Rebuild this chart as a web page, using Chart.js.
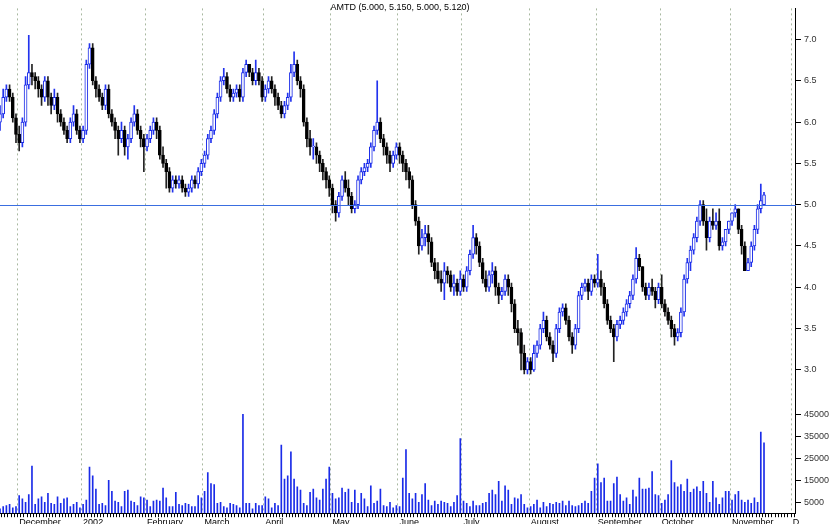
<!DOCTYPE html>
<html><head><meta charset="utf-8">
<script src="https://cdn.jsdelivr.net/npm/chart.js@4/dist/chart.umd.min.js"></script>
<style>html,body{margin:0;padding:0;background:#fff}#w{width:832px;height:524px}</style>
</head><body><div id="w"><canvas id="c"></canvas></div>
<script>
const chartTitle = "AMTD (5.000, 5.150, 5.000, 5.120)";
const refLevel = 5.0;
const monthMarks = {6:"December",26:"2002",46:"February",64:"March",83:"April",104:"May",125:"June",145:"July",166:"August",187:"September",207:"October",229:"November",248:"D"};
const priceTicks = [3.0,3.5,4.0,4.5,5.0,5.5,6.0,6.5,7.0];
const volTicks = [5000,10000,15000,20000,25000,30000,35000,40000,45000];
const opens = [
6.00,6.10,6.30,6.40,6.30,6.05,5.85,
5.75,6.00,6.45,6.60,6.55,
6.50,6.40,6.30,6.50,6.30,6.20,6.30,
6.10,6.00,5.90,5.80,6.00,6.10,5.90,5.80,
5.90,6.70,6.90,6.50,
6.40,6.30,6.20,6.40,6.10,6.00,5.90,5.80,5.90,5.70,5.80,6.00,
6.10,5.90,5.80,5.70,5.80,5.90,6.00,
5.90,5.60,5.50,5.40,5.20,5.30,5.25,5.30,5.20,5.15,5.20,5.30,5.25,5.40,5.50,5.60,
5.80,5.90,6.10,6.30,6.50,6.55,6.40,6.30,6.35,6.40,6.30,6.60,6.70,6.60,
6.50,6.60,6.50,6.30,6.40,6.50,6.40,6.30,6.20,6.10,6.20,6.30,6.60,6.70,6.50,
6.40,6.00,5.80,5.70,5.70,5.60,5.50,5.40,5.30,5.20,5.00,4.90,5.10,
5.30,5.20,5.10,4.95,5.00,5.30,5.40,5.45,
5.50,5.70,5.90,6.00,5.80,5.70,5.60,5.50,5.60,5.70,5.60,5.50,5.40,5.30,
5.00,4.80,4.50,4.60,4.65,4.55,4.30,
4.20,4.10,4.05,4.20,4.15,4.00,4.05,3.95,4.10,4.00,4.20,4.40,4.60,4.50,
4.30,4.10,4.00,4.15,4.20,4.00,3.90,3.95,4.10,4.00,
3.80,3.50,3.45,3.20,3.00,3.10,3.00,
3.20,3.30,3.50,3.60,3.40,3.30,3.20,3.50,3.70,3.75,3.60,3.40,3.30,
3.50,3.90,4.00,4.05,3.95,4.10,4.05,4.10,4.00,3.80,
3.60,3.50,3.40,3.55,3.60,3.70,3.80,3.90,4.10,4.35,4.25,4.00,
3.90,4.00,3.95,3.85,4.00,3.80,3.70,3.60,3.50,3.40,
3.45,3.70,4.10,4.30,4.45,4.60,4.80,
5.00,4.80,4.60,4.80,4.75,4.80,4.50,4.55,4.70,4.80,4.90,
4.95,4.70,4.50,4.20,4.30,4.50,4.70,4.95,5.00];
const closes = [
6.10,6.30,6.40,6.30,6.05,5.85,5.75,
6.00,6.45,6.60,6.55,6.50,
6.40,6.30,6.50,6.30,6.20,6.30,6.10,
6.00,5.90,5.80,6.00,6.10,5.90,5.80,5.90,
6.70,6.90,6.50,6.40,
6.30,6.20,6.40,6.10,6.00,5.90,5.80,5.90,5.70,5.80,6.00,6.10,
5.90,5.80,5.70,5.80,5.90,6.00,5.90,
5.60,5.50,5.40,5.20,5.30,5.25,5.30,5.20,5.15,5.20,5.30,5.25,5.40,5.50,5.60,5.80,
5.90,6.10,6.30,6.50,6.55,6.40,6.30,6.35,6.40,6.30,6.60,6.70,6.60,6.50,
6.60,6.50,6.30,6.40,6.50,6.40,6.30,6.20,6.10,6.20,6.30,6.60,6.70,6.50,6.40,
6.00,5.80,5.70,5.70,5.60,5.50,5.40,5.30,5.20,5.00,4.90,5.10,5.30,
5.20,5.10,4.95,5.00,5.30,5.40,5.45,5.50,
5.70,5.90,6.00,5.80,5.70,5.60,5.50,5.60,5.70,5.60,5.50,5.40,5.30,5.00,
4.80,4.50,4.60,4.65,4.55,4.30,4.20,
4.10,4.05,4.20,4.15,4.00,4.05,3.95,4.10,4.00,4.20,4.40,4.60,4.50,4.30,
4.10,4.00,4.15,4.20,4.00,3.90,3.95,4.10,4.00,3.80,
3.50,3.45,3.20,3.00,3.10,3.00,3.20,
3.30,3.50,3.60,3.40,3.30,3.20,3.50,3.70,3.75,3.60,3.40,3.30,3.50,
3.90,4.00,4.05,3.95,4.10,4.05,4.10,4.00,3.80,3.60,
3.50,3.40,3.55,3.60,3.70,3.80,3.90,4.10,4.35,4.25,4.00,3.90,
4.00,3.95,3.85,4.00,3.80,3.70,3.60,3.50,3.40,3.45,
3.70,4.10,4.30,4.45,4.60,4.80,5.00,
4.80,4.60,4.80,4.75,4.80,4.50,4.55,4.70,4.80,4.90,4.95,
4.70,4.50,4.20,4.30,4.50,4.70,4.95,5.05,5.12];
const highs = [
6.20,6.40,6.45,6.45,6.35,6.10,5.95,
6.05,6.55,7.05,6.70,6.60,
6.55,6.45,6.55,6.55,6.35,6.40,6.35,
6.15,6.05,5.95,6.05,6.20,6.15,5.95,5.95,
6.75,6.95,6.95,6.55,
6.45,6.35,6.45,6.45,6.15,6.05,5.95,6.00,5.95,5.85,6.05,6.20,
6.15,5.95,5.85,5.85,5.95,6.05,6.05,
5.95,5.70,5.55,5.45,5.35,5.35,5.35,5.35,5.25,5.25,5.35,5.35,5.45,5.55,5.65,5.85,
5.95,6.15,6.35,6.55,6.65,6.60,6.45,6.40,6.45,6.45,6.65,6.75,6.70,6.65,
6.75,6.65,6.55,6.45,6.55,6.55,6.45,6.35,6.25,6.25,6.35,6.70,6.85,6.75,6.55,
6.45,6.05,5.90,5.80,5.75,5.65,5.55,5.45,5.35,5.25,5.05,5.15,5.35,
5.40,5.30,5.15,5.05,5.35,5.45,5.50,5.55,
5.75,5.95,6.50,6.05,5.85,5.75,5.65,5.65,5.75,5.75,5.65,5.55,5.45,5.35,
5.05,4.85,4.70,4.75,4.75,4.60,4.35,
4.30,4.20,4.30,4.25,4.20,4.15,4.10,4.20,4.15,4.25,4.45,4.75,4.65,4.55,
4.35,4.20,4.20,4.30,4.25,4.05,4.00,4.15,4.15,4.05,
3.85,3.60,3.50,3.30,3.15,3.15,3.30,
3.35,3.55,3.70,3.65,3.45,3.35,3.55,3.75,3.80,3.80,3.65,3.45,3.55,
3.95,4.05,4.10,4.10,4.15,4.15,4.40,4.20,4.05,3.85,
3.65,3.55,3.60,3.65,3.75,3.85,3.95,4.15,4.48,4.40,4.25,4.05,
4.05,4.10,4.00,4.05,4.15,3.85,3.75,3.65,3.55,3.50,
3.75,4.15,4.35,4.50,4.65,4.85,5.05,
5.05,4.95,4.85,4.95,4.90,4.95,4.60,4.70,4.80,4.90,5.00,
4.95,4.75,4.55,4.35,4.55,4.75,5.00,5.25,5.15];
const lows = [
5.90,6.05,6.25,6.25,6.00,5.75,5.65,
5.70,5.95,6.40,6.45,6.40,
6.30,6.20,6.25,6.20,6.10,6.15,6.00,
5.95,5.85,5.75,5.75,5.95,5.85,5.75,5.75,
5.85,6.65,6.45,6.30,
6.25,6.15,6.15,6.05,5.95,5.80,5.60,5.75,5.60,5.55,5.75,5.95,
5.85,5.70,5.40,5.65,5.75,5.85,5.80,
5.55,5.45,5.20,5.15,5.15,5.20,5.20,5.15,5.10,5.10,5.15,5.20,5.20,5.35,5.45,5.55,
5.75,5.85,6.05,6.25,6.45,6.35,6.25,6.25,6.30,6.25,6.25,6.55,6.55,6.45,
6.45,6.45,6.25,6.25,6.35,6.35,6.20,6.15,6.05,6.05,6.15,6.25,6.55,6.45,6.30,
5.95,5.70,5.60,5.55,5.50,5.40,5.30,5.20,5.10,4.90,4.80,4.85,5.05,
5.15,5.00,4.90,4.90,4.95,5.25,5.35,5.40,
5.45,5.65,5.85,5.75,5.60,5.50,5.40,5.45,5.55,5.50,5.40,5.30,5.20,4.95,
4.75,4.40,4.45,4.50,4.40,4.25,4.10,
4.05,3.95,3.85,4.05,3.95,3.90,3.90,3.90,3.95,3.95,4.15,4.35,4.40,4.25,
4.05,3.95,3.95,4.05,3.90,3.80,3.85,3.90,3.90,3.70,
3.45,3.30,3.00,2.95,2.95,2.95,2.98,
3.15,3.25,3.45,3.35,3.25,3.10,3.15,3.45,3.65,3.55,3.35,3.20,3.25,
3.45,3.85,3.95,3.85,3.90,4.00,4.00,3.90,3.75,3.55,
3.45,3.10,3.35,3.50,3.55,3.65,3.75,3.85,4.05,4.20,3.95,3.85,
3.85,3.90,3.75,3.80,3.75,3.65,3.55,3.40,3.30,3.35,
3.40,3.65,4.05,4.20,4.40,4.55,4.75,
4.75,4.45,4.55,4.70,4.70,4.45,4.45,4.50,4.65,4.75,4.85,
4.65,4.40,4.20,4.20,4.25,4.45,4.65,4.90,5.00];
const volumes = [
2000,3000,3500,4000,2500,3000,8000,6500,5000,8500,21500,4000,6500,7500,5000,9000,4500,4000,7500,4500,
6500,7000,3000,4000,5000,2500,4000,6000,21000,17000,11000,4000,4500,3500,15000,10000,5500,5000,3000,10000,
10500,5500,5000,3500,7500,7000,6000,3000,5500,6000,5500,11500,7000,3000,3000,9500,4000,3500,4500,4000,
3000,3000,8000,7000,10000,18500,13500,13000,4500,5000,3000,2500,4500,4000,3500,2500,45000,4500,4500,2000,
4500,3500,3500,7500,6500,2500,4500,3500,31000,15500,17000,28000,15500,12000,10500,4500,3500,9500,11000,7000,
6000,11000,15500,21000,9000,6500,7000,11500,9500,11000,5000,10500,4500,9000,6500,3000,12500,4500,5500,11000,
3500,3000,5000,2500,3500,3000,16000,29000,9000,6500,9000,5000,8500,13500,6000,3500,5500,4000,5500,5000,
4500,3000,5000,8000,34000,5500,4500,3000,5500,3500,3500,4500,5000,9000,10500,8500,14500,5500,12500,10500,
4000,7000,6500,8500,4000,2500,3000,4000,6000,2500,5000,3000,4500,4000,5000,4500,5500,3500,5500,3500,
3000,3500,4500,5500,4500,10000,16000,22500,14000,16000,5500,5500,13500,16500,8500,5500,7000,4000,10500,7500,
16000,11000,11000,11500,19000,8500,8000,4500,6000,8500,24000,14000,12000,13000,10000,15500,9500,11000,12000,10000,
14500,9000,5000,14500,7000,4000,7000,10000,10000,6000,8500,10000,6000,5000,6000,4500,7000,5000,37000,32000];
const nCats = 250;

const labels = Array.from({length:nCats},(_,i)=>i);
const up = opens.map((o,i)=>closes[i]>=o);
const font = {family:"'Liberation Sans', Arial, sans-serif", size:9};

const overlay = {
  id:'overlay',
  afterDatasetsDraw(chart){
    const {ctx, chartArea, scales} = chart;
    const y = scales.y.getPixelForValue(refLevel);
    ctx.save();
    ctx.strokeStyle = '#3a6ee0'; ctx.lineWidth = 1.2;
    ctx.beginPath(); ctx.moveTo(chartArea.left, Math.round(y)+0.5); ctx.lineTo(chartArea.right, Math.round(y)+0.5); ctx.stroke();
    ctx.fillStyle = '#000'; ctx.font = "9px 'Liberation Sans', Arial, sans-serif";
    ctx.textAlign='center'; ctx.textBaseline='top';
    ctx.fillText(chartTitle, 400, 3);
    ctx.restore();
  }
};

new Chart(document.getElementById('c'), {
  data: {
    labels,
    datasets: [
      {type:'bar', label:'wick', yAxisID:'y', grouped:false, data: highs.map((h,i)=>[lows[i],h]),
       backgroundColor: up.map(u=>u?'#2233ee':'#222222'), barThickness:1, order:2},
      {type:'bar', label:'body', yAxisID:'y', grouped:false,
       data: opens.map((o,i)=>[o, Math.abs(closes[i]-o)<0.01 ? o+0.01 : closes[i]]),
       backgroundColor: up.map(u=>u?'#ffffff':'#000000'),
       borderColor: up.map(u=>u?'#1a2be8':'#000000'),
       borderWidth: 1, borderSkipped:false, barThickness:3, order:1},
      {type:'bar', label:'vol', yAxisID:'yv', grouped:false, data: volumes,
       backgroundColor:'#1a2be8', barThickness:1, order:3}
    ]
  },
  options: {
    responsive:true, maintainAspectRatio:false, animation:false,
    layout:{padding:{top:0,right:0,left:0,bottom:-4}},
    plugins:{legend:{display:false}, tooltip:{enabled:false}},
    scales:{
      x:{type:'category', offset:false,
         grid:{color:(c)=>monthMarks[c.tick && c.tick.value]!==undefined?'#a8b8a0':'rgba(0,0,0,0)', drawTicks:true, tickLength:4, tickColor:'#000'},
         border:{color:'#000', dash:[2,3]},
         ticks:{autoSkip:false, maxRotation:0, font, color:'#000', padding:0, align:'start',
                callback:(v)=>monthMarks[v]!==undefined?monthMarks[v]:''}},
      y:{position:'right', stack:'s', stackWeight:393, min:2.62, max:7.376,
         afterBuildTicks:(s)=>{s.ticks=priceTicks.map(v=>({value:v}));},
         grid:{drawOnChartArea:false, tickLength:5, tickColor:'#000'}, border:{color:'#000'},
         ticks:{font, color:'#333', padding:3, callback:(v)=>v.toFixed(1)}},
      yv:{position:'right', stack:'s', stackWeight:112, min:0, max:51000, offset:false,
         afterBuildTicks:(s)=>{s.ticks=volTicks.map(v=>({value:v}));},
         grid:{drawOnChartArea:false, tickLength:5, tickColor:'#000'}, border:{color:'#000'},
         ticks:{font, color:'#333', padding:3, callback:(v)=>String(v)}}
    }
  },
  plugins:[overlay]
});
</script></body></html>
